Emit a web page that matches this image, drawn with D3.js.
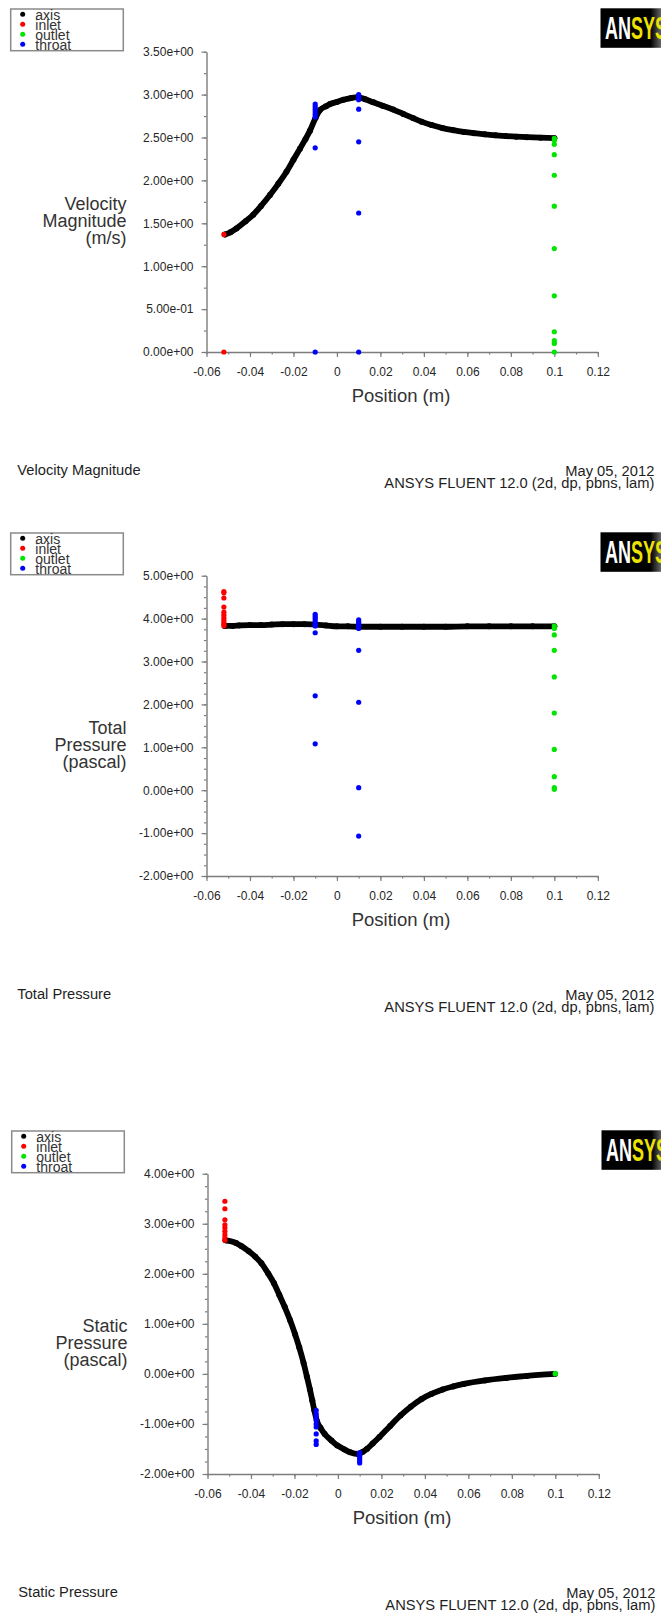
<!DOCTYPE html>
<html>
<head>
<meta charset="utf-8">
<script src="https://cdn.jsdelivr.net/npm/d3@7"></script>
<style>
  html, body { margin: 0; padding: 0; background: #ffffff; }
  svg { display: block; font-family: "Liberation Sans", Arial, sans-serif; }
</style>
</head>
<body>
<svg id="chart" width="661" height="1615"></svg>
<script>
// ---- Series and axes ------------------------------------------------------
const seriesNames  = ["axis", "inlet", "outlet", "throat"];
const seriesColors = ["#000000", "#ff0000", "#00e600", "#0000ff"];

const positionTicks      = [-0.06, -0.04, -0.02, 0, 0.02, 0.04, 0.06, 0.08, 0.1, 0.12];
const positionTickLabels = ["-0.06", "-0.04", "-0.02", "0", "0.02", "0.04", "0.06", "0.08", "0.1", "0.12"];

const inletPosition   = -0.052;
const throatPositions = [-0.01, 0.01];
const outletPosition  = 0.1;

// Velocity Magnitude (m/s)
const velocityTicks = [0, 0.5, 1, 1.5, 2, 2.5, 3, 3.5];
const velocityAxis = [
  [-0.0515, 1.37], [-0.0490, 1.395], [-0.0462, 1.44], [-0.0420, 1.525], [-0.0385, 1.60],
  [-0.0350, 1.70], [-0.0308, 1.83], [-0.0270, 1.96], [-0.0232, 2.10], [-0.0200, 2.24],
  [-0.0170, 2.37], [-0.0145, 2.48], [-0.0124, 2.58], [-0.0098, 2.73], [-0.0078, 2.82],
  [-0.0050, 2.865], [-0.0032, 2.89], [0.0000, 2.915], [0.0030, 2.94], [0.0065, 2.96],
  [0.0098, 2.97], [0.0130, 2.945], [0.0167, 2.91], [0.0210, 2.87], [0.0259, 2.825],
  [0.0305, 2.775], [0.0351, 2.725], [0.0389, 2.685], [0.0435, 2.645], [0.0486, 2.61],
  [0.0535, 2.585], [0.0583, 2.565], [0.0630, 2.55], [0.0680, 2.537], [0.0730, 2.526],
  [0.0777, 2.517], [0.0825, 2.51], [0.0874, 2.504], [0.0937, 2.498], [0.1000, 2.492]
];
const velocityInlet   = [1.37, 0];
const velocityOutlet  = [2.49, 2.465, 2.42, 2.30, 2.06, 1.70, 1.205, 0.655, 0.236, 0.132, 0.10, 0];
const velocityThroatA = [2.89, 2.86, 2.83, 2.80, 2.77, 2.74, 2.38, 0];
const velocityThroatB = [3.00, 2.98, 2.96, 2.94, 2.83, 2.45, 1.62, 0];

// Total Pressure (pascal)
const totalTicks = [-2, -1, 0, 1, 2, 3, 4, 5];
const totalAxis = [
  [-0.0515, 3.83], [-0.0480, 3.83], [-0.0450, 3.84], [-0.0400, 3.85], [-0.0350, 3.85],
  [-0.0300, 3.86], [-0.0250, 3.87], [-0.0200, 3.87], [-0.0150, 3.87], [-0.0100, 3.86],
  [-0.0050, 3.84], [0.0000, 3.82], [0.0050, 3.82], [0.0100, 3.81], [0.0200, 3.81],
  [0.0300, 3.81], [0.0400, 3.81], [0.0500, 3.81], [0.0600, 3.82], [0.0700, 3.82],
  [0.0800, 3.82], [0.0900, 3.82], [0.1000, 3.82]
];
const totalInlet   = [4.63, 4.60, 4.48, 4.27, 4.15, 4.08, 4.01, 3.95, 3.90, 3.86, 3.83];
const totalOutlet  = [3.83, 3.77, 3.62, 3.26, 2.64, 1.80, 0.95, 0.315, 0.058, 0.02];
const totalThroatA = [4.10, 4.05, 4.00, 3.95, 3.90, 3.86, 3.83, 3.67, 2.20, 1.08];
const totalThroatB = [3.97, 3.93, 3.89, 3.85, 3.81, 3.77, 3.26, 2.05, 0.06, -1.07];

// Static Pressure (pascal)
const staticTicks = [-2, -1, 0, 1, 2, 3, 4];
const staticAxis = [
  [-0.0517, 2.67], [-0.0468, 2.615], [-0.0443, 2.55], [-0.0410, 2.45], [-0.0380, 2.34],
  [-0.0352, 2.21], [-0.0320, 2.00], [-0.0294, 1.81], [-0.0270, 1.58], [-0.0245, 1.34],
  [-0.0220, 1.07], [-0.0197, 0.79], [-0.0178, 0.53], [-0.0158, 0.22], [-0.0143, -0.05],
  [-0.0129, -0.31], [-0.0118, -0.53], [-0.0109, -0.72], [-0.0096, -0.95], [-0.0080, -1.08],
  [-0.0061, -1.20], [-0.0030, -1.33], [-0.0003, -1.43], [0.0030, -1.51], [0.0056, -1.565],
  [0.0094, -1.60], [0.0113, -1.56], [0.0133, -1.50], [0.0160, -1.39], [0.0191, -1.26],
  [0.0240, -1.04], [0.0288, -0.83], [0.0335, -0.655], [0.0385, -0.50], [0.0430, -0.40],
  [0.0482, -0.31], [0.0530, -0.25], [0.0579, -0.20], [0.0676, -0.13], [0.0773, -0.08],
  [0.0870, -0.04], [0.0998, 0.0]
];
const staticInlet   = [3.45, 3.30, 3.08, 2.98, 2.92, 2.85, 2.78, 2.72, 2.67];
const staticOutlet  = [0.01, 0.0];
const staticThroatA = [-0.73, -0.80, -0.86, -0.93, -1.00, -1.06, -1.20, -1.34, -1.41];
const staticThroatB = [-1.57, -1.60, -1.63, -1.66, -1.70, -1.74, -1.78];

// ---- Layout ----------------------------------------------------------------
const panels = [
  { dx: 0, dy: 0,    title: ["Velocity", "Magnitude", "(m/s)"], footer: "Velocity Magnitude",
    ticks: velocityTicks, axis: velocityAxis, inlet: velocityInlet, outlet: velocityOutlet,
    throat: [velocityThroatA, velocityThroatB] },
  { dx: 0, dy: 524,  title: ["Total", "Pressure", "(pascal)"], footer: "Total Pressure",
    ticks: totalTicks, axis: totalAxis, inlet: totalInlet, outlet: totalOutlet,
    throat: [totalThroatA, totalThroatB] },
  { dx: 1, dy: 1122, title: ["Static", "Pressure", "(pascal)"], footer: "Static Pressure",
    ticks: staticTicks, axis: staticAxis, inlet: staticInlet, outlet: staticOutlet,
    throat: [staticThroatA, staticThroatB] }
];

const svg = d3.select("#chart");
const AXIS_X = 206.5, AXIS_Y = 352, TOP_Y = 51.7, RIGHT_X = 597.8;
const axisColor = "#7c7c7c", textColor = "#262626";
const dotR = 2.6;

function sci(v) {
  return v.toExponential(2).replace(/e([+-])(\d)$/, "e$10$2");
}

const defs = svg.append("defs");
const grad = defs.append("linearGradient").attr("id", "logoShade")
  .attr("x1", "0").attr("x2", "1").attr("y1", "0").attr("y2", "0");
grad.append("stop").attr("offset", "0.82").attr("stop-color", "#000");
grad.append("stop").attr("offset", "1").attr("stop-color", "#6a6a6a");

panels.forEach(p => {
  const g = svg.append("g").attr("transform", `translate(${p.dx},${p.dy})`);

  const x = d3.scaleLinear().domain([-0.06, 0.12]).range([AXIS_X, RIGHT_X]);
  const y = d3.scaleLinear().domain(d3.extent(p.ticks)).range([AXIS_Y, TOP_Y]);

  const yMinor = d3.range(d3.min(p.ticks), d3.max(p.ticks) + 1e-9, 0.25);
  const xMinor = d3.range(-0.06, 0.1201, 0.01);

  // minor ticks
  g.append("g").attr("transform", `translate(${AXIS_X},0)`)
    .call(d3.axisLeft(y).tickValues(yMinor).tickSize(2.5).tickSizeOuter(0).tickFormat(""))
    .call(s => s.select(".domain").remove());
  g.append("g").attr("transform", `translate(0,${AXIS_Y})`)
    .call(d3.axisBottom(x).tickValues(xMinor).tickSize(2.5).tickSizeOuter(0).tickFormat(""))
    .call(s => s.select(".domain").remove());

  // major ticks and labels
  const yAx = g.append("g").attr("transform", `translate(${AXIS_X},0)`)
    .call(d3.axisLeft(y).tickValues(p.ticks).tickSize(5).tickSizeOuter(0).tickPadding(8).tickFormat(sci));
  const xAx = g.append("g").attr("transform", `translate(0,${AXIS_Y})`)
    .call(d3.axisBottom(x).tickValues(positionTicks).tickSize(5).tickSizeOuter(0).tickPadding(10.5)
      .tickFormat((d, i) => positionTickLabels[i]));

  g.selectAll(".tick line").attr("stroke", axisColor).attr("stroke-width", 1.2);
  g.selectAll(".domain").attr("stroke", axisColor).attr("stroke-width", 1.4);
  [yAx, xAx].forEach(a => a.attr("font-family", null).attr("font-size", null)
    .selectAll("text").attr("font-size", "12px").attr("fill", textColor));

  // axis series: dense points along the centre line
  g.append("path").datum(p.axis)
    .attr("d", d3.line().x(d => x(d[0])).y(d => y(d[1])).curve(d3.curveMonotoneX))
    .attr("fill", "none").attr("stroke", seriesColors[0])
    .attr("stroke-width", 5.8).attr("stroke-linecap", "round").attr("stroke-linejoin", "round");
  g.append("g").selectAll("circle").data(p.axis).join("circle")
    .attr("cx", d => x(d[0])).attr("cy", d => y(d[1])).attr("r", dotR + 0.4)
    .attr("fill", seriesColors[0]);

  // boundary series
  const groups = [
    { color: seriesColors[1], pts: p.inlet.map(v => [inletPosition, v]) },
    { color: seriesColors[2], pts: p.outlet.map(v => [outletPosition, v]) },
    { color: seriesColors[3], pts: p.throat[0].map(v => [throatPositions[0], v])
                                 .concat(p.throat[1].map(v => [throatPositions[1], v])) }
  ];
  groups.forEach(s => {
    g.append("g").selectAll("circle").data(s.pts).join("circle")
      .attr("cx", d => x(d[0])).attr("cy", d => y(d[1])).attr("r", dotR)
      .attr("fill", s.color);
  });

  // y title
  const yt = g.append("text").attr("text-anchor", "end").attr("font-size", "18px").attr("fill", "#333");
  p.title.forEach((t, i) => yt.append("tspan").attr("x", 126.5).attr("y", 210 + i * 17).text(t));

  // x title
  g.append("text").attr("x", 401).attr("y", 401.5).attr("text-anchor", "middle")
    .attr("font-size", "18.5px").attr("fill", "#333").text("Position (m)");

  // legend
  const lg = g.append("g");
  lg.append("rect").attr("x", 10.7).attr("y", 9).attr("width", 112.6).attr("height", 41.7)
    .attr("fill", "#fff").attr("stroke", "#8a8a8a").attr("stroke-width", 1.5);
  seriesNames.forEach((n, i) => {
    lg.append("circle").attr("cx", 22.7).attr("cy", 14.3 + i * 10).attr("r", 2.5).attr("fill", seriesColors[i]);
    lg.append("text").attr("x", 35.3).attr("y", 19.6 + i * 10).attr("font-size", "14px")
      .attr("fill", "#333").text(n);
  });

  // logo
  const logo = g.append("g");
  logo.append("rect").attr("x", 600.5).attr("y", 8.3).attr("width", 61).attr("height", 39.5)
    .attr("fill", "url(#logoShade)");
  const lt = logo.append("text").attr("transform", "translate(605,39.3) scale(0.58,1)")
    .attr("font-size", "31px").attr("font-weight", "bold");
  lt.append("tspan").attr("fill", "#ffffff").text("AN");
  lt.append("tspan").attr("fill", "#ece400").text("SYS");

  // footer
  g.append("text").attr("x", 17.3).attr("y", 474.8).attr("font-size", "14.7px")
    .attr("fill", "#1e1e1e").text(p.footer);
  g.append("text").attr("x", 654.3).attr("y", 475.5).attr("text-anchor", "end")
    .attr("font-size", "14.7px").attr("fill", "#1e1e1e").text("May 05, 2012");
  g.append("text").attr("x", 654.3).attr("y", 487.5).attr("text-anchor", "end")
    .attr("font-size", "14.7px").attr("fill", "#1e1e1e").text("ANSYS FLUENT 12.0 (2d, dp, pbns, lam)");
});
</script>
</body>
</html>
